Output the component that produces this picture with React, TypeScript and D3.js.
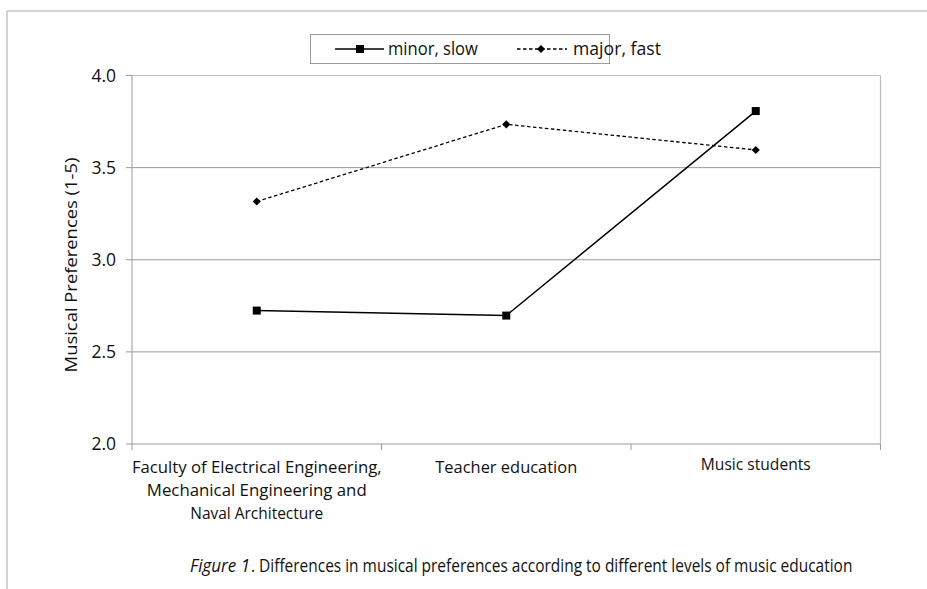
import React, { useLayoutEffect, useRef, useState } from "react";
import * as d3 from "d3";

const categories = [
  "Faculty of Electrical Engineering,\nMechanical Engineering and\nNaval Architecture",
  "Teacher education",
  "Music students",
];
const minorSlow = [2.724, 2.697, 3.807];
const majorFast = [3.316, 3.735, 3.596];
const yTicks = [2.0, 2.5, 3.0, 3.5, 4.0];
const seriesNames = ["minor, slow", "major, fast"];
const yTitle = "Musical Preferences (1-5)";
const captionItalic = "Figure 1";
const captionRest = ". Differences in musical preferences according to different levels of music education";

const W = 927;
const H = 589;
const FONT = "'Open Sans', 'Noto Sans', sans-serif";

type FitProps = {
  x: number;
  y: number;
  width: number;
  anchor?: "start" | "middle" | "end";
  rotate?: number;
  fontSize: number;
  italic?: boolean;
  dy?: string;
  children: string;
};

function FitText({ x, y, width, anchor = "start", rotate = 0, fontSize, italic, dy, children }: FitProps) {
  const ref = useRef<SVGTextElement>(null);
  const [s, setS] = useState(1);
  useLayoutEffect(() => {
    if (ref.current) {
      const n = ref.current.getComputedTextLength();
      if (n > 0) setS(width / n);
    }
  }, [width, children]);
  return (
    <text
      ref={ref}
      transform={`translate(${x},${y}) rotate(${rotate}) scale(${s},1)`}
      textAnchor={anchor}
      fontSize={fontSize}
      fontStyle={italic ? "italic" : undefined}
      dy={dy}
      fill="#111"
    >
      {children}
    </text>
  );
}

export default function App() {
  const left = 132, right = 880.5, top = 75.5, bottom = 444;
  const x = d3.scaleBand<string>().domain(categories).range([left, right]).paddingInner(0).paddingOuter(0);
  const y = d3.scaleLinear().domain([2, 4]).range([bottom, top]);
  const cx = (i: number) => (x(categories[i]) as number) + x.bandwidth() / 2;

  const line = d3
    .line<number>()
    .x((_, i) => cx(i))
    .y((d) => y(d));

  const diamond = d3.symbol().type(d3.symbolDiamond2).size(42)() as string;

  const labelWidths: number[][] = [[250, 220, 133], [142], [110]];
  const labelDy = [0, 0, -3];

  return (
    <svg width={W} height={H} style={{ position: "absolute", left: 0, top: 0, background: "#fff" }} fontFamily={FONT}>
      {/* outer frame */}
      <line x1={7} y1={11} x2={W} y2={11} stroke="#c4c4c4" strokeWidth={1.5} />
      <line x1={7} y1={11} x2={7} y2={H} stroke="#c4c4c4" strokeWidth={1.5} />

      {/* gridlines */}
      {yTicks.slice(1, -1).map((t) => (
        <line key={t} x1={left} x2={right} y1={y(t)} y2={y(t)} stroke="#9a9a9a" strokeWidth={1} />
      ))}
      {/* plot border top/right */}
      <line x1={left} x2={right} y1={y(4)} y2={y(4)} stroke="#bdbdbd" strokeWidth={1.2} />
      <line x1={right} x2={right} y1={y(4)} y2={bottom} stroke="#bdbdbd" strokeWidth={1.2} />
      {/* axes */}
      <line x1={left} x2={left} y1={y(4)} y2={bottom} stroke="#9a9a9a" strokeWidth={1} />
      <line x1={left} x2={right} y1={bottom} y2={bottom} stroke="#9a9a9a" strokeWidth={1} />
      {yTicks.map((t) => (
        <g key={t}>
          <line x1={left - 6} x2={left} y1={y(t)} y2={y(t)} stroke="#9a9a9a" />
          <text x={116} y={y(t)} dy="0.35em" textAnchor="end" fontSize={17.5} fill="#111">
            {t.toFixed(1)}
          </text>
        </g>
      ))}
      {x.domain().map((c) => (
        <line key={c} x1={x(c)} x2={x(c)} y1={bottom} y2={bottom + 6} stroke="#9a9a9a" />
      ))}
      <line x1={right} x2={right} y1={bottom} y2={bottom + 6} stroke="#9a9a9a" />

      {/* category labels */}
      {categories.map((c, i) =>
        c.split("\n").map((ln, j) => (
          <FitText
            key={`${i}-${j}`}
            x={cx(i)}
            y={473 + labelDy[i] + j * 23}
            width={labelWidths[i][j]}
            anchor="middle"
            fontSize={16.5}
          >
            {ln}
          </FitText>
        ))
      )}

      {/* y title */}
      <FitText x={77} y={265} rotate={-90} width={215} anchor="middle" fontSize={16.5}>
        {yTitle}
      </FitText>

      {/* series */}
      <path d={line(majorFast) as string} fill="none" stroke="#000" strokeWidth={1.3} strokeDasharray="3.5,2.5" />
      <path d={line(minorSlow) as string} fill="none" stroke="#000" strokeWidth={1.5} />
      {minorSlow.map((v, i) => (
        <rect key={i} x={cx(i) - 4} y={y(v) - 4} width={8} height={8} fill="#000" />
      ))}
      {majorFast.map((v, i) => (
        <path key={i} d={diamond} transform={`translate(${cx(i)},${y(v)})`} fill="#000" />
      ))}

      {/* legend */}
      <rect x={310.5} y={34.5} width={299} height={29} fill="#fff" stroke="#9a9a9a" strokeWidth={1} />
      <line x1={335} x2={384} y1={49} y2={49} stroke="#000" strokeWidth={1.5} />
      <rect x={356} y={45} width={8} height={8} fill="#000" />
      <FitText x={388} y={49} dy="0.35em" width={90} fontSize={17.5}>
        {seriesNames[0]}
      </FitText>
      <line x1={517} x2={567} y1={49} y2={49} stroke="#000" strokeWidth={1.3} strokeDasharray="3.5,2.5" />
      <path d={diamond} transform="translate(541,49)" fill="#000" />
      <FitText x={573} y={49} dy="0.35em" width={88} fontSize={17.5}>
        {seriesNames[1]}
      </FitText>

      {/* caption */}
      <FitText x={190} y={572} width={60} fontSize={17.5} italic>
        {captionItalic}
      </FitText>
      <FitText x={251} y={572} width={602} fontSize={17.5}>
        {captionRest}
      </FitText>
    </svg>
  );
}
